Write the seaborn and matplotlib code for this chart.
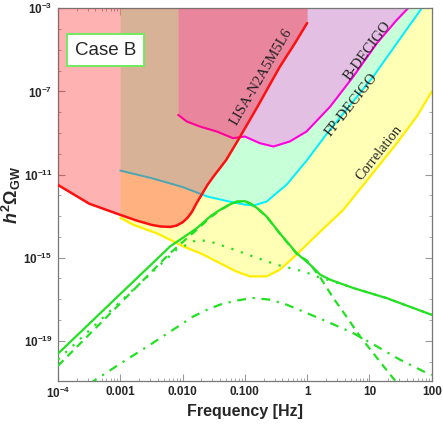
import numpy as np
import matplotlib
matplotlib.use("Agg")
import matplotlib.pyplot as plt
import seaborn as sns
from matplotlib.ticker import FixedLocator, LogLocator, NullFormatter

# values, as log10(f / Hz) and log10(h^2 Omega)
lisa_f = [-4.0, -3.5, -3.0, -2.75, -2.5, -2.35, -2.2, -2.1, -2.0, -1.92, -1.85, -1.77, -1.6, -1.5, -1.3, -1.1, -0.8, -0.44, -0.2, 0.0]
lisa_h = [-11.5, -12.4, -12.94, -13.2, -13.42, -13.5, -13.52, -13.46, -13.3, -13.08, -12.8, -12.35, -11.5, -11.08, -10.3, -9.3, -7.75, -5.82, -4.7, -3.71]

fp_f = [-3.0, -2.5, -2.0, -1.6, -1.25, -1.0, -0.86, -0.65, -0.49, -0.33, 0.0, 0.3, 0.63, 1.06, 1.44, 1.84]
fp_h = [-10.81, -11.17, -11.6, -12.06, -12.3, -12.45, -12.49, -12.3, -11.89, -11.49, -10.3, -9.1, -7.89, -6.29, -4.68, -3.0]

bd_f = [-2.07, -1.93, -1.72, -1.45, -1.19, -1.0, -0.76, -0.54, -0.28, -0.01, 0.37, 0.74, 1.12, 1.44, 1.62]
bd_h = [-8.13, -8.45, -8.69, -8.93, -9.25, -9.17, -9.49, -9.65, -9.41, -8.93, -7.73, -6.29, -4.68, -3.56, -3.0]

corr_f = [-3.0, -2.79, -2.42, -2.2, -1.99, -1.72, -1.61, -1.35, -1.14, -0.92, -0.65, -0.44, -0.17, 0.10, 0.58, 1.01, 1.44, 1.76, 2.0]
corr_h = [-13.08, -13.42, -13.82, -14.14, -14.46, -14.78, -14.94, -15.34, -15.66, -15.9, -15.9, -15.58, -14.86, -14.06, -12.7, -11.1, -9.49, -8.21, -7.01]

tot_f = [-4.0, -3.0, -2.2, -1.77, -1.55, -1.4, -1.25, -1.13, -1.0, -0.92, -0.8, -0.65, -0.44, -0.17, 0.05, 0.21, 0.37, 0.74, 1.27, 2.0]
tot_h = [-19.62, -16.75, -14.46, -13.58, -13.0, -12.7, -12.45, -12.3, -12.28, -12.38, -12.62, -13.02, -13.82, -14.78, -15.34, -15.82, -16.06, -16.46, -16.94, -17.75]

dash_f = [-4.0, -3.0, -2.2, -1.77, -1.55, -1.4, -1.25, -1.13, -1.0, -0.92, -0.8, -0.65, -0.44, -0.17, 0.0, 0.2, 0.42, 0.63, 0.85, 1.06, 1.27, 1.40, 1.48]
dash_h = [-20.2, -17.2, -14.78, -13.65, -13.05, -12.72, -12.46, -12.31, -12.29, -12.39, -12.63, -13.03, -13.84, -14.8, -15.15, -15.9, -16.94, -17.83, -18.79, -19.59, -20.39, -20.87, -21.2]

dot_f = [-4.0, -3.0, -2.1, -1.77, -1.56, -1.24, -0.87, -0.49, -0.06, 0.15, 0.37, 0.74, 1.27, 2.0]
dot_h = [-19.9, -17.12, -14.62, -14.14, -14.22, -14.54, -14.94, -15.34, -15.66, -15.9, -16.1, -16.46, -16.94, -17.75]

dd_f = [-3.5, -3.0, -2.5, -2.0, -1.83, -1.6, -1.4, -1.13, -0.87, -0.6, -0.33, -0.01, 0.37, 0.74, 1.12, 1.49, 1.92, 2.0]
dd_h = [-21.08, -20.1, -19.15, -18.17, -17.83, -17.5, -17.26, -17.06, -16.94, -17.02, -17.26, -17.66, -18.14, -18.63, -19.27, -19.91, -20.55, -20.65]

xticks = [1e-4, 1e-3, 1e-2, 1e-1, 1, 10, 100]
xlabels = [r"$10^{-4}$", "0.001", "0.010", "0.100", "1", "10", "100"]
yticks = [1e-19, 1e-15, 1e-11, 1e-7, 1e-3]
ylabels = [r"$10^{-19}$", r"$10^{-15}$", r"$10^{-11}$", r"$10^{-7}$", r"$10^{-3}$"]

sns.set_theme(style="ticks")
plt.rcParams["font.family"] = ["Liberation Sans", "DejaVu Sans"]
plt.rcParams["mathtext.fontset"] = "custom"
plt.rcParams["mathtext.rm"] = "Liberation Sans:bold"
plt.rcParams["mathtext.bf"] = "Liberation Sans:bold"
plt.rcParams["mathtext.it"] = "Liberation Sans:bold:italic"

def p(v):
    return 10.0 ** np.array(v)

top = 1e-3
fig = plt.figure(figsize=(4.43, 4.24), dpi=100)
ax = fig.add_axes([0.1309, 0.1021, 0.8436, 0.8783])
ax.set_xscale("log")
ax.set_yscale("log")

# detector regions (filled up to the top)
ax.fill_between(p(corr_f), p(corr_h), top, color="#ffffb6", lw=0, zorder=1)
ax.fill_between(p(fp_f), p(fp_h), top, color="#c6ffd8", lw=0, zorder=1.1)
ax.fill_between(p(bd_f), p(bd_h), top, color="#e2bfe3", lw=0, zorder=1.2)

sns.lineplot(x=p(corr_f), y=p(corr_h), ax=ax, color="#ffee00", lw=1.6, sort=False, estimator=None, zorder=2)
sns.lineplot(x=p(fp_f), y=p(fp_h), ax=ax, color="#00eeff", lw=1.4, sort=False, estimator=None, zorder=2)
sns.lineplot(x=p(bd_f), y=p(bd_h), ax=ax, color="#ff00dd", lw=1.5, sort=False, estimator=None, zorder=2)

ax.fill_between(p(lisa_f), p(lisa_h), top, color="#ff0000", alpha=0.3, lw=0, zorder=3)
sns.lineplot(x=p(lisa_f), y=p(lisa_h), ax=ax, color="#ff1010", lw=1.8, sort=False, estimator=None, zorder=4)

# signal
g = "#22e022"
sns.lineplot(x=p(tot_f), y=p(tot_h), ax=ax, color=g, lw=1.6, sort=False, estimator=None, zorder=5)
sns.lineplot(x=p(dash_f), y=p(dash_h), ax=ax, color=g, lw=1.6, sort=False, estimator=None, zorder=5, linestyle=(0, (3.5, 2.5)))
sns.lineplot(x=p(dot_f), y=p(dot_h), ax=ax, color=g, lw=1.6, sort=False, estimator=None, zorder=5, linestyle=(0, (1, 3.5)))
sns.lineplot(x=p(dd_f), y=p(dd_h), ax=ax, color=g, lw=1.6, sort=False, estimator=None, zorder=5, linestyle=(0, (4, 3, 1, 3)))

# curve labels
lab = dict(family=["Liberation Serif", "DejaVu Serif"], fontsize=10.5, ha="center", va="center",
           rotation_mode="anchor", color="#222222", zorder=6)
ax.text(10 ** -0.74, 10 ** -6.3, "LISA-N2A5M5L6", rotation=59.6, **lab)
ax.text(10 ** 0.97, 10 ** -5.05, "B-DECIGO", rotation=53.4, **lab)
ax.text(10 ** 0.71, 10 ** -7.65, "FP-DECIGO", rotation=51.7, **lab)
ax.text(10 ** 1.15, 10 ** -9.96, "Correlation", rotation=51.6, **lab)

ax.text(0.128, 0.888, "Case B", transform=ax.transAxes, fontsize=13.5, ha="center", va="center",
        zorder=7, bbox=dict(boxstyle="square,pad=0.42", fc="white", ec="#66ee55", lw=1.3))

ax.set_xlim(1e-4, 100)
ax.set_ylim(1.2e-21, 1e-3)
ax.xaxis.set_major_locator(FixedLocator(xticks))
ax.set_xticklabels(xlabels)
ax.xaxis.set_minor_locator(LogLocator(base=10, subs=np.arange(2, 10), numticks=20))
ax.xaxis.set_minor_formatter(NullFormatter())
ax.yaxis.set_major_locator(FixedLocator(yticks))
ax.set_yticklabels(ylabels)
ax.yaxis.set_minor_locator(FixedLocator([10.0 ** k for k in range(-21, -2)]))
ax.yaxis.set_minor_formatter(NullFormatter())

for lbl in ax.get_xticklabels() + ax.get_yticklabels():
    lbl.set_fontweight("bold")
ax.tick_params(which="both", direction="in", top=True, right=True, color="#999999", labelsize=8.5, pad=4)
ax.tick_params(which="major", length=5, width=0.8)
ax.tick_params(which="minor", length=2.5, width=0.6)
for s in ax.spines.values():
    s.set_color("#777777")
    s.set_linewidth(0.9)

ax.set_xlabel("Frequency [Hz]", fontsize=11.5, fontweight="bold", labelpad=2)
ax.set_ylabel(r"$\mathit{h}^{2}\Omega_{\mathrm{GW}}$", fontsize=13, labelpad=0)

fig.savefig("out.png", dpi=100)
